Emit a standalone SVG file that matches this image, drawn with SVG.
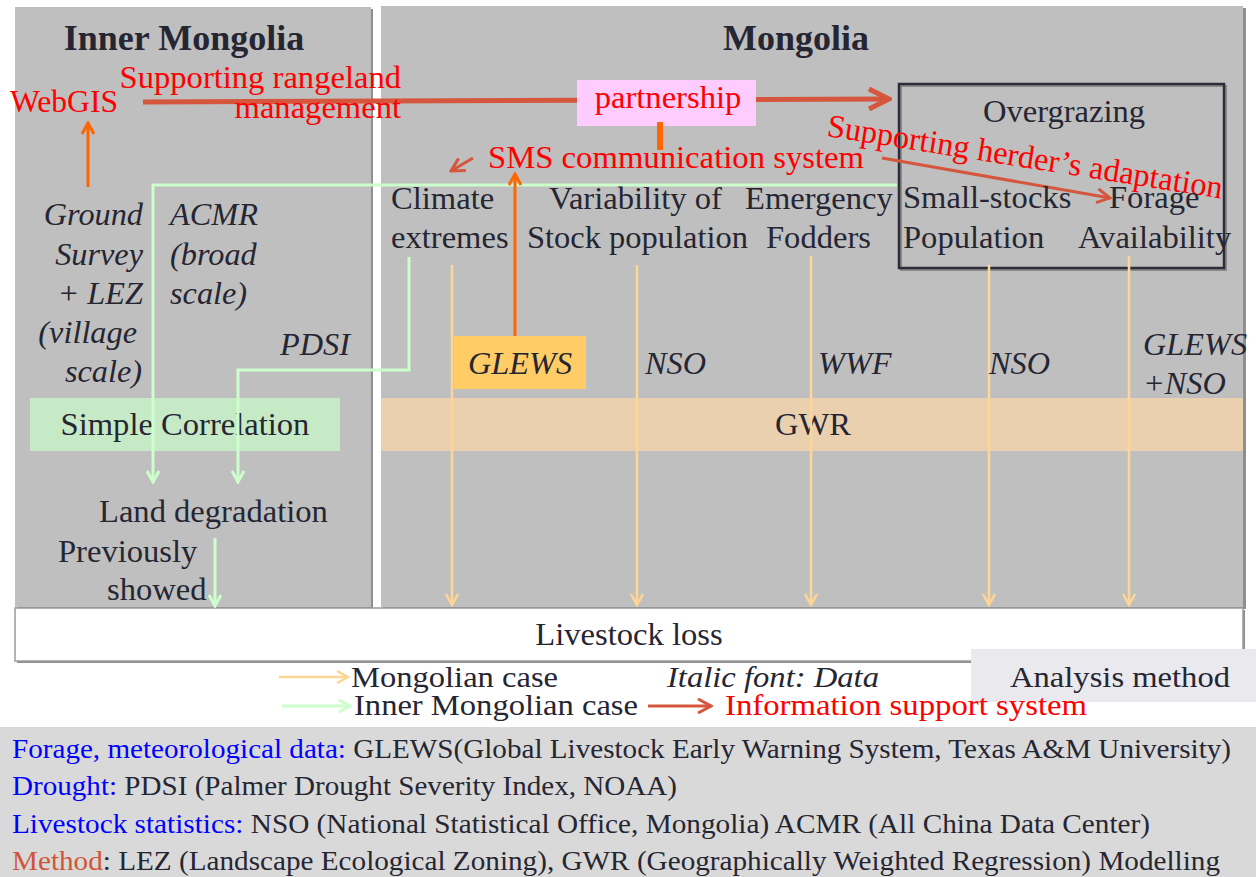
<svg xmlns="http://www.w3.org/2000/svg" width="1256" height="877" viewBox="0 0 1256 877" font-family="'Liberation Serif', serif">
<style>
  .t { fill: #262633; font-size: 32.6px; }
  .it { fill: #262633; font-size: 32.3px; font-style: italic; }
  .title { fill: #262633; font-size: 36px; font-weight: bold; }
  .red { fill: #ff0000; font-size: 32.6px; }
  .leg { fill: #262633; font-size: 29px; }
  .foot { fill: #262633; font-size: 28px; }
  .blue { fill: #0000ff; }
  .green { fill: none; stroke: #ccffcc; stroke-width: 3; }
  .lo { fill: none; stroke: #ffd596; stroke-width: 2.5; }
  .or { fill: none; stroke: #ff6600; stroke-width: 3; }
  .rb { fill: none; stroke: #d5563c; }
</style>
<defs>
  <marker id="ah-lo" viewBox="0 0 14 14" refX="12" refY="7" markerWidth="14" markerHeight="14" markerUnits="userSpaceOnUse" orient="auto">
    <path d="M1,1 L12,7 L1,13" fill="none" stroke="#ffd596" stroke-width="2.5"/>
  </marker>
  <marker id="ah-g" viewBox="0 0 14 14" refX="12" refY="7" markerWidth="14" markerHeight="14" markerUnits="userSpaceOnUse" orient="auto">
    <path d="M1,1 L12,7 L1,13" fill="none" stroke="#ccffcc" stroke-width="3"/>
  </marker>
  <marker id="ah-or" viewBox="0 0 14 14" refX="12" refY="7" markerWidth="14" markerHeight="14" markerUnits="userSpaceOnUse" orient="auto">
    <path d="M1,1 L12,7 L1,13" fill="none" stroke="#ff6600" stroke-width="3"/>
  </marker>
  <marker id="ah-rb" viewBox="0 0 16 16" refX="14" refY="8" markerWidth="16" markerHeight="16" markerUnits="userSpaceOnUse" orient="auto">
    <path d="M1,1 L14,8 L1,15" fill="none" stroke="#d5563c" stroke-width="3"/>
  </marker>
  <marker id="ah-rbb" viewBox="0 0 26 26" refX="23" refY="13" markerWidth="26" markerHeight="26" markerUnits="userSpaceOnUse" orient="auto">
    <path d="M3,3 L23,13 L3,23" fill="none" stroke="#d5563c" stroke-width="5"/>
  </marker>
</defs>

<rect x="0" y="0" width="1256" height="877" fill="#ffffff"/>

<!-- panels -->
<g id="panel-inner">
  <rect x="17" y="9" width="356" height="600" fill="#8f8f8f"/>
  <rect x="15" y="7" width="356" height="600" fill="#bfbfbf"/>
  <text class="title" x="184" y="50" text-anchor="middle">Inner Mongolia</text>
</g>
<g id="panel-mongolia">
  <rect x="383" y="8" width="863" height="601" fill="#8f8f8f"/>
  <rect x="381" y="6" width="862" height="601" fill="#bfbfbf"/>
  <text class="title" x="796" y="50" text-anchor="middle">Mongolia</text>
</g>

<!-- bands -->
<g id="simple-correlation">
  <rect x="30" y="398" width="310" height="53" fill="#c6e9c6"/>
  <text class="t" x="185" y="435" text-anchor="middle">Simple Correlation</text>
</g>
<g id="gwr">
  <rect x="381" y="398" width="862" height="53" fill="#ebd0b0"/>
  <text class="t" x="813" y="435" text-anchor="middle">GWR</text>
</g>

<g id="overgrazing">
  <rect x="901" y="86" width="325" height="184" fill="none" stroke="#8a8a8a" stroke-width="2"/>
  <rect x="899" y="84" width="325" height="184" fill="none" stroke="#2d2d3a" stroke-width="2.5"/>
  <text class="t" x="1064" y="122" text-anchor="middle">Overgrazing</text>
</g>

<g id="livestock-loss">
  <rect x="17" y="610" width="1228" height="53" fill="#8f8f8f"/>
  <rect x="15" y="608" width="1228" height="53" fill="#ffffff" stroke="#9a9a9a" stroke-width="1.5"/>
  <text class="t" x="629" y="645" text-anchor="middle">Livestock loss</text>
</g>

<g id="analysis-method">
  <rect x="971" y="649" width="285" height="53" fill="#e9e9ee"/>
  <text class="leg" x="1010" y="687" textLength="220" lengthAdjust="spacingAndGlyphs">Analysis method</text>
</g>

<g id="glews-box">
  <rect x="454" y="336" width="132" height="53" fill="#ffcc66"/>
</g>

<!-- connectors -->
<g id="connectors">
  <line class="lo" x1="452" y1="265" x2="452" y2="605" marker-end="url(#ah-lo)"/>
  <line class="lo" x1="637" y1="265" x2="637" y2="605" marker-end="url(#ah-lo)"/>
  <line class="lo" x1="811" y1="256" x2="811" y2="605" marker-end="url(#ah-lo)"/>
  <line class="lo" x1="989" y1="265" x2="989" y2="605" marker-end="url(#ah-lo)"/>
  <line class="lo" x1="1129" y1="256" x2="1129" y2="605" marker-end="url(#ah-lo)"/>
  <polyline class="green" points="897,185 153,185 153,482" marker-end="url(#ah-g)"/>
  <polyline class="green" points="409,257 409,370 238,370 238,482" marker-end="url(#ah-g)"/>
  <line class="green" x1="215" y1="538" x2="215" y2="606" marker-end="url(#ah-g)"/>
  <line class="or" x1="88" y1="187" x2="88" y2="123" marker-end="url(#ah-or)"/>
  <line class="or" x1="515" y1="336" x2="515" y2="174" marker-end="url(#ah-or)"/>
  <line x1="660" y1="120" x2="660" y2="150" stroke="#ff6600" stroke-width="6"/>
  <line class="rb" x1="143" y1="102" x2="889" y2="99" stroke-width="5" marker-end="url(#ah-rbb)"/>
  <line class="rb" x1="473" y1="158" x2="451" y2="171" stroke-width="3" marker-end="url(#ah-rb)"/>
  <line class="rb" x1="882" y1="158" x2="1110" y2="198" stroke-width="3" marker-end="url(#ah-rb)"/>
  <line class="lo" x1="279" y1="677" x2="348" y2="677" stroke-width="3" marker-end="url(#ah-lo)"/>
  <line class="green" x1="282" y1="706" x2="350" y2="706" marker-end="url(#ah-g)"/>
  <line class="rb" x1="648" y1="706" x2="711" y2="706" stroke-width="3" marker-end="url(#ah-rb)"/>
</g>

<g id="partnership">
  <rect x="577" y="80" width="179" height="46" fill="#ffccff"/>
  <text class="red" x="668" y="108" text-anchor="middle">partnership</text>
</g>
<line x1="660" y1="122" x2="660" y2="150" stroke="#ff6600" stroke-width="6"/>

<!-- labels -->
<g id="labels-info">
  <text class="red" x="10" y="112" textLength="108" lengthAdjust="spacingAndGlyphs">WebGIS</text>
  <text class="red" x="401" y="88" text-anchor="end">Supporting rangeland</text>
  <text class="red" x="401" y="118" text-anchor="end">management</text>
  <text class="red" x="488" y="168" textLength="376" lengthAdjust="spacingAndGlyphs">SMS communication system</text>
  <text class="red" x="826" y="136" transform="rotate(9 826 136)" textLength="400" lengthAdjust="spacingAndGlyphs">Supporting herder’s adaptation</text>
</g>

<g id="factors">
  <text class="t" x="391" y="209">Climate</text>
  <text class="t" x="391" y="248">extremes</text>
  <text class="t" x="549" y="209">Variability of</text>
  <text class="t" x="527" y="248" textLength="221" lengthAdjust="spacingAndGlyphs">Stock population</text>
  <text class="t" x="745" y="209">Emergency</text>
  <text class="t" x="766" y="248">Fodders</text>
  <text class="t" x="903" y="208">Small-stocks</text>
  <text class="t" x="903" y="248">Population</text>
  <text class="t" x="1109" y="208">Forage</text>
  <text class="t" x="1078" y="248">Availability</text>
</g>

<g id="data-labels">
  <text class="it" x="143" y="225" text-anchor="end">Ground</text>
  <text class="it" x="143" y="265" text-anchor="end">Survey</text>
  <text class="it" x="143" y="304" text-anchor="end">+ LEZ</text>
  <text class="it" x="137" y="343" text-anchor="end">(village</text>
  <text class="it" x="142" y="382" text-anchor="end">scale)</text>
  <text class="it" x="170" y="225">ACMR</text>
  <text class="it" x="170" y="265">(broad</text>
  <text class="it" x="170" y="304">scale)</text>
  <text class="it" x="280" y="355">PDSI</text>
  <text class="it" x="468" y="374">GLEWS</text>
  <text class="it" x="645" y="374">NSO</text>
  <text class="it" x="818" y="374">WWF</text>
  <text class="it" x="989" y="374">NSO</text>
  <text class="it" x="1143" y="355">GLEWS</text>
  <text class="it" x="1143" y="394">+NSO</text>
</g>

<g id="land-degradation">
  <text class="t" x="99" y="522">Land degradation</text>
  <text class="t" x="58" y="562">Previously</text>
  <text class="t" x="107" y="600">showed</text>
</g>

<g id="legend">
  <text class="leg" x="351" y="687" textLength="207" lengthAdjust="spacingAndGlyphs">Mongolian case</text>
  <text class="leg" x="667" y="687" font-style="italic" textLength="212" lengthAdjust="spacingAndGlyphs">Italic font: Data</text>
  <text class="leg" x="354" y="715" textLength="284" lengthAdjust="spacingAndGlyphs">Inner Mongolian case</text>
  <text class="leg" x="725" y="715" style="fill:#ff0000" textLength="362" lengthAdjust="spacingAndGlyphs">Information support system</text>
</g>

<g id="footnotes">
  <rect x="0" y="727" width="1256" height="150" fill="#d9d9d9"/>
  <text class="foot" x="12" y="758" textLength="1219" lengthAdjust="spacingAndGlyphs"><tspan class="blue">Forage, meteorological data:</tspan> GLEWS(Global Livestock Early Warning System, Texas A&amp;M University)</text>
  <text class="foot" x="12" y="795" textLength="665" lengthAdjust="spacingAndGlyphs"><tspan class="blue">Drought:</tspan> PDSI (Palmer Drought Severity Index, NOAA)</text>
  <text class="foot" x="12" y="833" textLength="1138" lengthAdjust="spacingAndGlyphs"><tspan class="blue">Livestock statistics:</tspan> NSO (National Statistical Office, Mongolia) ACMR (All China Data Center)</text>
  <text class="foot" x="12" y="870" textLength="1208" lengthAdjust="spacingAndGlyphs"><tspan style="fill:#d05538">Method</tspan>: LEZ (Landscape Ecological Zoning), GWR (Geographically Weighted Regression) Modelling</text>
</g>
</svg>
